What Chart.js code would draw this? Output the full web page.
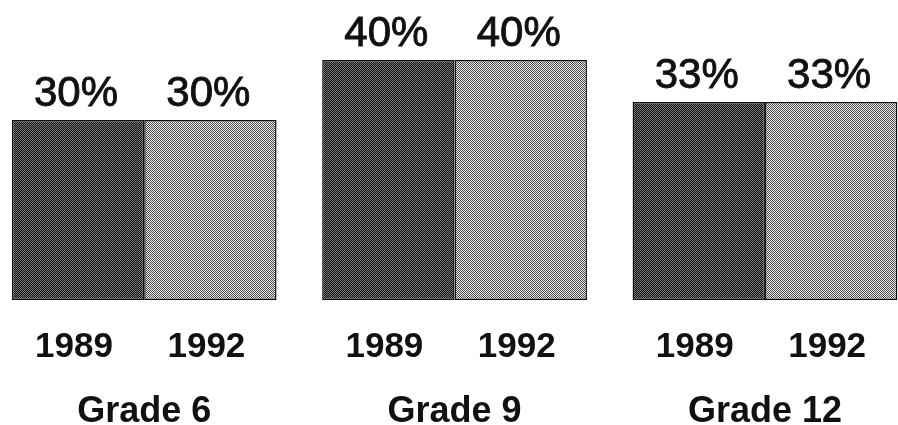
<!DOCTYPE html>
<html>
<head>
<meta charset="utf-8">
<script src="https://cdn.jsdelivr.net/npm/chart.js@4/dist/chart.umd.min.js"></script>
<style>
    html, body { margin: 0; padding: 0; background: #fff; overflow: hidden; width: 898px; height: 425px; }
    #outer { position: relative; width: 898px; height: 425px; overflow: hidden; }
    #wrap { position: absolute; left: -11px; top: 0; width: 943px; height: 425px; }
</style>
</head>
<body>
<div id="outer"><div id="wrap"><canvas id="bar_chart"></canvas></div></div>
<script>
const grades = ['Grade 6', 'Grade 9', 'Grade 12'];
const years = ['1989', '1992'];
const values1989 = [30, 40, 33];
const values1992 = [30, 40, 33];

// little dither patterns to look like the printed halftone
function makePattern(a, b) {
    let c = document.createElement('canvas');
    c.width = 2;
    c.height = 2;
    let ctx = c.getContext('2d');
    ctx.fillStyle = a;
    ctx.fillRect(0, 0, 2, 2);
    ctx.fillStyle = b;
    ctx.fillRect(1, 0, 1, 1);
    ctx.fillRect(0, 1, 1, 1);
    return ctx.createPattern(c, 'repeat');
}

const labelPlugin = {
    id: 'labels',
    afterDatasetsDraw(chart) {
        const ctx = chart.ctx;
        ctx.save();
        ctx.fillStyle = '#111';
        ctx.strokeStyle = '#111';
        ctx.lineWidth = 0.9;
        ctx.textAlign = 'center';
        chart.data.datasets.forEach((ds, i) => {
            const meta = chart.getDatasetMeta(i);
            meta.data.forEach((bar, j) => {
                ctx.font = '42px "Liberation Sans", Arial, sans-serif';
                ctx.textBaseline = 'alphabetic';
                ctx.fillText(ds.data[j] + '%', bar.x - 2, bar.y - 14);
                ctx.strokeText(ds.data[j] + '%', bar.x - 2, bar.y - 14);
                ctx.font = 'bold 35px "Liberation Sans", Arial, sans-serif';
                ctx.textBaseline = 'middle';
                ctx.fillText(ds.label, bar.x - 4, 347);
            });
        });
        ctx.restore();
    }
};

new Chart(document.getElementById('bar_chart').getContext('2d'), {
    type: 'bar',
    data: {
        labels: grades,
        datasets: [
            {
                label: years[0],
                data: values1989,
                backgroundColor: makePattern('#0e0e0e', '#7a7a7a'),
                borderColor: '#111',
                borderWidth: 1.5,
                borderSkipped: false
            },
            {
                label: years[1],
                data: values1992,
                backgroundColor: makePattern('#eeeeee', '#4a4a4a'),
                borderColor: '#111',
                borderWidth: 1.5,
                borderSkipped: false
            }
        ]
    },
    options: {
        responsive: true,
        maintainAspectRatio: false,
        animation: false,
        layout: { padding: 0 },
        categoryPercentage: 0.853,
        barPercentage: 1.0,
        plugins: {
            legend: { display: false },
            tooltip: { enabled: false }
        },
        scales: {
            y: {
                display: false,
                min: 0,
                max: 50
            },
            x: {
                grid: { display: false, drawTicks: false },
                border: { display: false },
                afterFit: (scale) => { scale.height = 125; },
                ticks: {
                    color: '#111',
                    padding: 90,
                    font: { family: '"Liberation Sans", Arial, sans-serif', size: 36, weight: 'bold' }
                }
            }
        }
    },
    plugins: [labelPlugin]
});
</script>
</body>
</html>
